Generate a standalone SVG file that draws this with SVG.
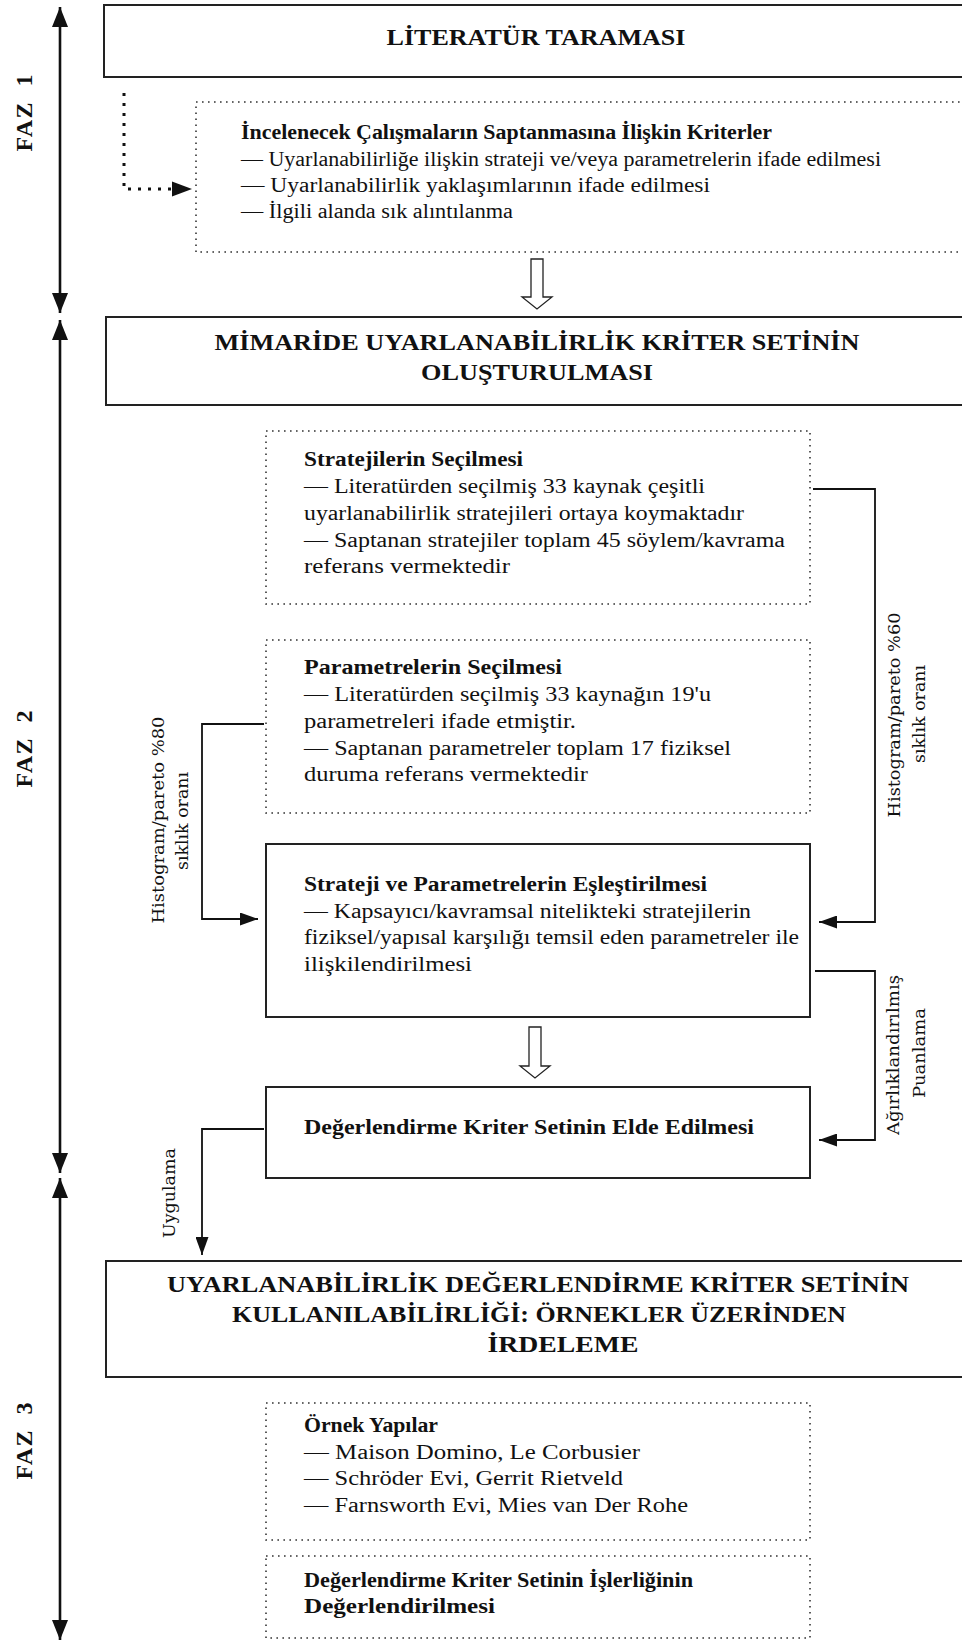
<svg xmlns="http://www.w3.org/2000/svg" width="962" height="1642" viewBox="0 0 962 1642">
<style>
.box{fill:#fff;stroke:#222;stroke-width:2}
.dot{fill:none;stroke:#333;stroke-width:1.6;stroke-dasharray:1.6 4.4}
.t{font-family:"Liberation Serif",serif;font-size:20px;fill:#111}
.b{font-weight:bold}
.title{font-family:"Liberation Serif",serif;font-size:24px;font-weight:bold;text-anchor:middle;fill:#111}
.lab{font-family:"DejaVu Serif",serif;font-size:17px;text-anchor:middle;fill:#111}
.faz{font-family:"Liberation Serif",serif;font-size:24px;font-weight:bold;text-anchor:middle;fill:#111}
.ln{fill:none;stroke:#111;stroke-width:1.8}
.ph{fill:none;stroke:#111;stroke-width:2.6}
.hollow{fill:#fff;stroke:#222;stroke-width:1.3}
</style>
<defs>
<marker id="ah" markerWidth="18" markerHeight="13" refX="18" refY="6.5" orient="auto" markerUnits="userSpaceOnUse"><path d="M0,0 L18,6.5 L0,13 Z" fill="#111"/></marker>
<marker id="pa" markerWidth="20" markerHeight="16" refX="20" refY="8" orient="auto-start-reverse" markerUnits="userSpaceOnUse"><path d="M0,0 L20,8 L0,16 Z" fill="#111"/></marker>
</defs>

<g id="phases">
<line class="ph" x1="60" y1="7" x2="60" y2="313" marker-start="url(#pa)" marker-end="url(#pa)"/>
<line class="ph" x1="60" y1="320" x2="60" y2="1173" marker-start="url(#pa)" marker-end="url(#pa)"/>
<line class="ph" x1="60" y1="1178" x2="60" y2="1640" marker-start="url(#pa)" marker-end="url(#pa)"/>
<text class="faz" transform="translate(32,113) rotate(-90)" textLength="77" xml:space="preserve">FAZ  1</text>
<text class="faz" transform="translate(32,749) rotate(-90)" textLength="77" xml:space="preserve">FAZ  2</text>
<text class="faz" transform="translate(32,1441) rotate(-90)" textLength="77" xml:space="preserve">FAZ  3</text>
</g>

<g id="literatur">
<rect class="box" x="104" y="5" width="870" height="72"/>
<text class="title" x="536" y="45" textLength="299" lengthAdjust="spacingAndGlyphs">LİTERATÜR TARAMASI</text>
</g>

<g id="kriterler">
<rect class="dot" x="196" y="102" width="780" height="150"/>
<text class="t b" x="241" y="139" textLength="531" lengthAdjust="spacingAndGlyphs">İncelenecek Çalışmaların Saptanmasına İlişkin Kriterler</text>
<text class="t" x="241" y="166" textLength="640" lengthAdjust="spacingAndGlyphs">— Uyarlanabilirliğe ilişkin strateji ve/veya parametrelerin ifade edilmesi</text>
<text class="t" x="241" y="192" textLength="469" lengthAdjust="spacingAndGlyphs">— Uyarlanabilirlik yaklaşımlarının ifade edilmesi</text>
<text class="t" x="241" y="218" textLength="272" lengthAdjust="spacingAndGlyphs">— İlgili alanda sık alıntılanma</text>
</g>

<g id="mimaride">
<rect class="box" x="106" y="317" width="870" height="88"/>
<text class="title" x="537" y="350" textLength="645" lengthAdjust="spacingAndGlyphs">MİMARİDE UYARLANABİLİRLİK KRİTER SETİNİN</text>
<text class="title" x="537" y="380" textLength="232" lengthAdjust="spacingAndGlyphs">OLUŞTURULMASI</text>
</g>

<g id="stratejiler">
<rect class="dot" x="266" y="431" width="544" height="173"/>
<text class="t b" x="304" y="466" textLength="219" lengthAdjust="spacingAndGlyphs">Stratejilerin Seçilmesi</text>
<text class="t" x="304" y="493" textLength="401" lengthAdjust="spacingAndGlyphs">— Literatürden seçilmiş 33 kaynak çeşitli</text>
<text class="t" x="304" y="520" textLength="440" lengthAdjust="spacingAndGlyphs">uyarlanabilirlik stratejileri ortaya koymaktadır</text>
<text class="t" x="304" y="547" textLength="481" lengthAdjust="spacingAndGlyphs">— Saptanan stratejiler toplam 45 söylem/kavrama</text>
<text class="t" x="304" y="573" textLength="206" lengthAdjust="spacingAndGlyphs">referans vermektedir</text>
</g>

<g id="parametreler">
<rect class="dot" x="266" y="640" width="544" height="173"/>
<text class="t b" x="304" y="674" textLength="258" lengthAdjust="spacingAndGlyphs">Parametrelerin Seçilmesi</text>
<text class="t" x="304" y="701" textLength="407" lengthAdjust="spacingAndGlyphs">— Literatürden seçilmiş 33 kaynağın 19'u</text>
<text class="t" x="304" y="728" textLength="272" lengthAdjust="spacingAndGlyphs">parametreleri ifade etmiştir.</text>
<text class="t" x="304" y="755" textLength="427" lengthAdjust="spacingAndGlyphs">— Saptanan parametreler toplam 17 fiziksel</text>
<text class="t" x="304" y="781" textLength="284" lengthAdjust="spacingAndGlyphs">duruma referans vermektedir</text>
</g>

<g id="eslestirme">
<rect class="box" x="266" y="844" width="544" height="173"/>
<text class="t b" x="304" y="891" textLength="403" lengthAdjust="spacingAndGlyphs">Strateji ve Parametrelerin Eşleştirilmesi</text>
<text class="t" x="304" y="918" textLength="447" lengthAdjust="spacingAndGlyphs">— Kapsayıcı/kavramsal nitelikteki stratejilerin</text>
<text class="t" x="304" y="944" textLength="495" lengthAdjust="spacingAndGlyphs">fiziksel/yapısal karşılığı temsil eden parametreler ile</text>
<text class="t" x="304" y="971" textLength="168" lengthAdjust="spacingAndGlyphs">ilişkilendirilmesi</text>
</g>

<g id="kriterseti">
<rect class="box" x="266" y="1087" width="544" height="91"/>
<text class="t b" x="304" y="1134" textLength="450" lengthAdjust="spacingAndGlyphs">Değerlendirme Kriter Setinin Elde Edilmesi</text>
</g>

<g id="kullanilabilirlik">
<rect class="box" x="106" y="1261" width="870" height="116"/>
<text class="title" x="538" y="1292" textLength="742" lengthAdjust="spacingAndGlyphs">UYARLANABİLİRLİK DEĞERLENDİRME KRİTER SETİNİN</text>
<text class="title" x="539" y="1322" textLength="614" lengthAdjust="spacingAndGlyphs">KULLANILABİLİRLİĞİ: ÖRNEKLER ÜZERİNDEN</text>
<text class="title" x="563" y="1352" textLength="151" lengthAdjust="spacingAndGlyphs">İRDELEME</text>
</g>

<g id="ornekler">
<rect class="dot" x="266" y="1403" width="544" height="137"/>
<text class="t b" x="304" y="1432" textLength="134" lengthAdjust="spacingAndGlyphs">Örnek Yapılar</text>
<text class="t" x="304" y="1459" textLength="336" lengthAdjust="spacingAndGlyphs">— Maison Domino, Le Corbusier</text>
<text class="t" x="304" y="1485" textLength="319" lengthAdjust="spacingAndGlyphs">— Schröder Evi, Gerrit Rietveld</text>
<text class="t" x="304" y="1512" textLength="384" lengthAdjust="spacingAndGlyphs">— Farnsworth Evi, Mies van Der Rohe</text>
</g>

<g id="islerlik">
<rect class="dot" x="266" y="1556" width="544" height="82"/>
<text class="t b" x="304" y="1587" textLength="389" lengthAdjust="spacingAndGlyphs">Değerlendirme Kriter Setinin İşlerliğinin</text>
<text class="t b" x="304" y="1613" textLength="191" lengthAdjust="spacingAndGlyphs">Değerlendirilmesi</text>
</g>

<g id="connectors">
<path d="M124,93 V189 H172" fill="none" stroke="#111" stroke-width="3" stroke-dasharray="3 7"/>
<path d="M172,181.5 L192,189 L172,196.5 Z" fill="#111"/>
<path class="hollow" d="M531,259 H543 V297 H552 L537,309 L522,297 H531 Z"/>
<path class="hollow" d="M529,1027 H541 V1066 H550 L535,1078 L520,1066 H529 Z"/>
<path class="ln" d="M813,489 H875 V922 H819" marker-end="url(#ah)"/>
<path class="ln" d="M264,724 H202 V919 H258" marker-end="url(#ah)"/>
<path class="ln" d="M815,971 H875 V1140 H819" marker-end="url(#ah)"/>
<path class="ln" d="M264,1129 H202 V1255" marker-end="url(#ah)"/>
<text class="lab" transform="translate(164,820) rotate(-90)" textLength="207" lengthAdjust="spacingAndGlyphs">Histogram/pareto %80</text>
<text class="lab" transform="translate(188,821) rotate(-90)" textLength="98" lengthAdjust="spacingAndGlyphs">sıklık oranı</text>
<text class="lab" transform="translate(900,715) rotate(-90)" textLength="205" lengthAdjust="spacingAndGlyphs">Histogram/pareto %60</text>
<text class="lab" transform="translate(925,714) rotate(-90)" textLength="98" lengthAdjust="spacingAndGlyphs">sıklık oranı</text>
<text class="lab" transform="translate(899,1055) rotate(-90)" textLength="160" lengthAdjust="spacingAndGlyphs">Ağırlıklandırılmış</text>
<text class="lab" transform="translate(925,1053) rotate(-90)" textLength="90" lengthAdjust="spacingAndGlyphs">Puanlama</text>
<text class="lab" transform="translate(175,1193) rotate(-90)" textLength="90" lengthAdjust="spacingAndGlyphs">Uygulama</text>
</g>
</svg>
